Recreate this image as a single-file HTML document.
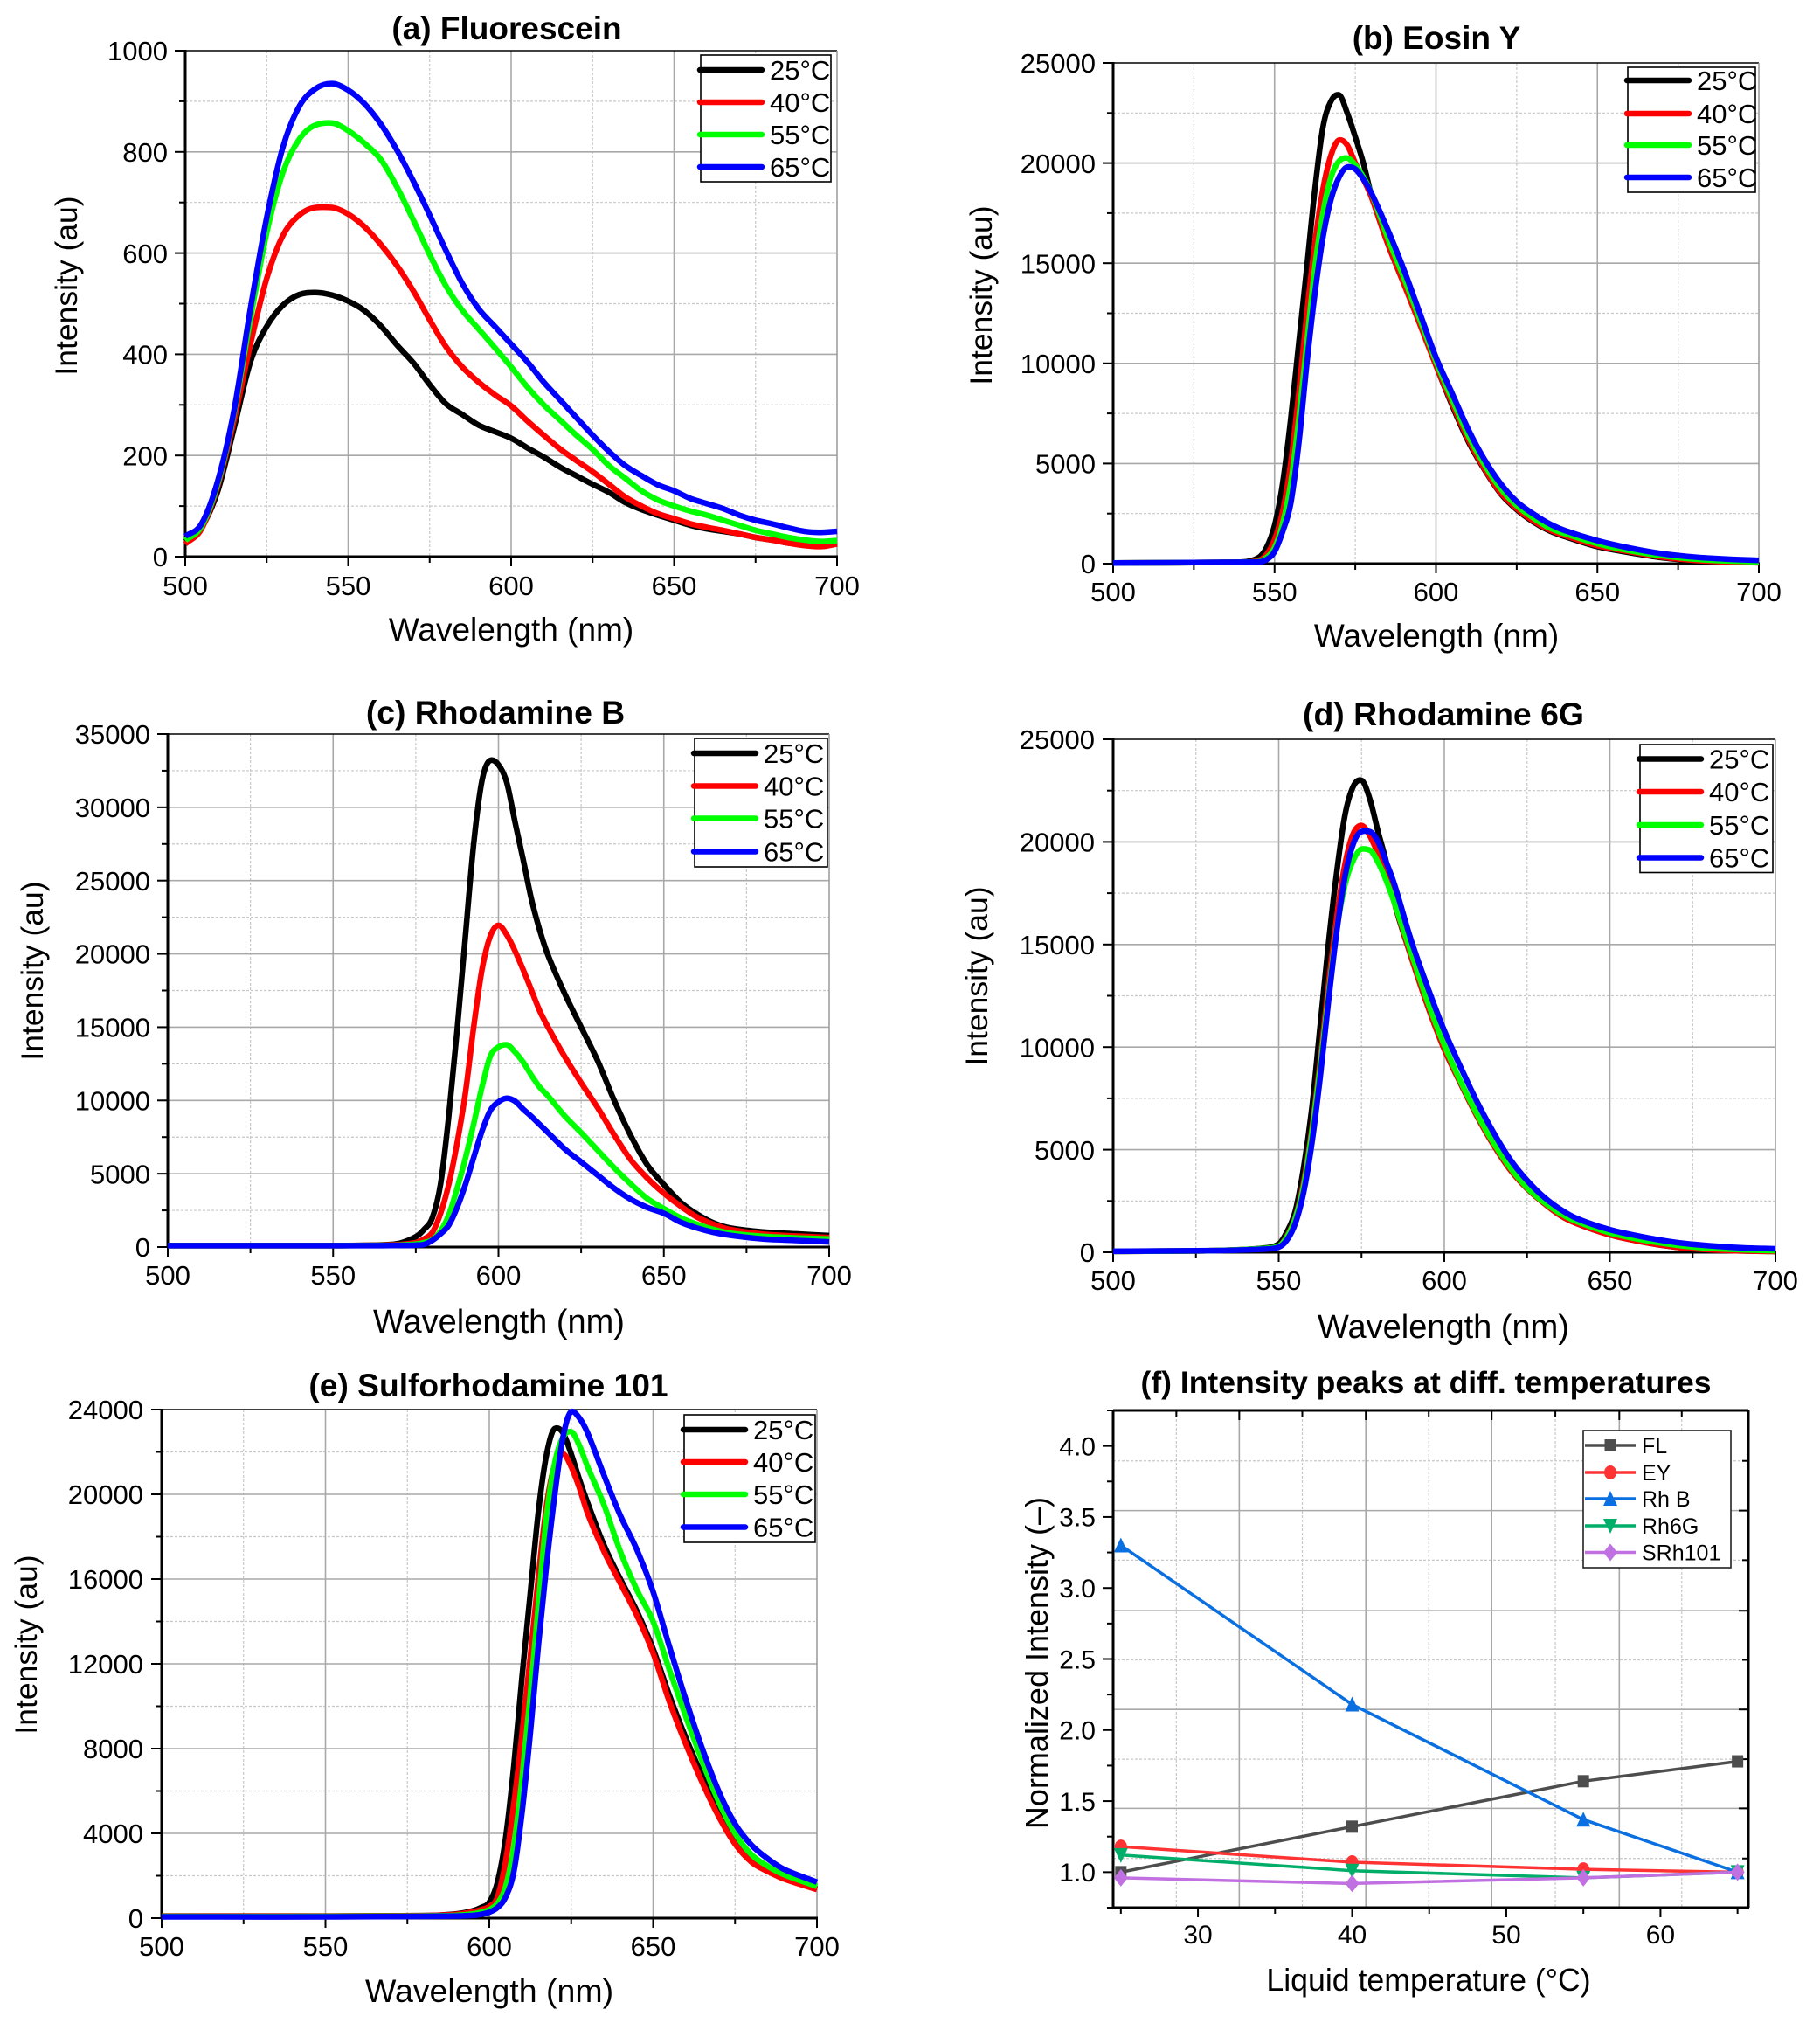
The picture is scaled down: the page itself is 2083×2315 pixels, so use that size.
<!DOCTYPE html>
<html>
<head>
<meta charset="utf-8">
<title>Fluorescence spectra at different temperatures</title>
<style>
html,body{margin:0;padding:0;background:#fff;}
svg{display:block;}
text{font-family:"Liberation Sans",Arial,sans-serif;fill:#000;}
</style>
</head>
<body>
<svg id="figure" xmlns="http://www.w3.org/2000/svg" width="2083" height="2315" viewBox="0 0 2083 2315"></svg>
<script>
// ---------- data: panel (a) Fluorescein ----------
const wlA=[500,505,510,515,520,525,530,535,540,545,550,555,560,565,570,575,580,585,590,595,600,605,610,615,620,625,630,635,640,645,650,655,660,665,670,675,680,685,690,695,700];
const a25=[30,58,130,255,385,455,497,518,522,517,505,486,456,418,383,340,302,281,260,247,234,215,197,177,160,143,127,107,93,82,72,62,55,50,45,38,33,27,24,26,28];
const a40=[25,55,140,270,420,550,635,675,690,690,677,652,617,575,525,468,415,375,345,320,298,268,240,213,190,168,143,118,100,85,75,65,58,52,45,38,33,27,22,20,25];
const a55=[32,60,145,285,470,640,760,825,853,857,842,817,785,730,665,597,535,487,450,413,375,335,300,270,240,212,180,155,130,112,100,90,82,72,62,52,45,38,33,30,32];
const a65=[40,65,150,290,490,670,810,890,925,935,922,895,855,803,742,675,605,540,490,455,420,385,345,310,275,240,208,180,160,142,130,115,105,95,82,72,65,57,50,48,50];
// ---------- data: panel (b) Eosin Y ----------
const wlB=[500,530,540,545,547.5,550,552.5,555,557.5,560,562.5,565,567.5,570,572.5,575,577.5,580,585,590,595,600,605,610,615,620,625,630,635,640,650,660,670,680,690,700];
const b25=[30,60,80,300,800,1900,4000,7200,11000,14800,18700,21800,23100,23400,22500,21300,20000,18400,16000,14000,12000,9900,7900,6100,4700,3500,2700,2100,1650,1350,850,550,300,150,80,50];
const b40=[30,60,70,150,450,1200,2600,5000,8500,12500,16000,18700,20400,21150,20900,20000,19200,18300,16000,14000,11950,9900,8000,6200,4750,3550,2750,2150,1700,1400,900,600,330,170,90,50];
const b55=[30,60,70,100,300,800,2000,4000,7200,11000,14800,17500,19300,20100,20250,19900,19300,18500,16300,14300,12200,10100,8200,6400,4950,3750,2900,2300,1800,1500,1000,650,400,230,140,100];
const b65=[30,60,70,80,200,600,1600,3000,6000,10000,13500,16300,18200,19300,19800,19700,19200,18500,16700,14700,12500,10300,8500,6700,5200,4000,3100,2500,2000,1650,1150,780,500,330,230,170];
// ---------- data: panel (c) Rhodamine B ----------
const wlC=[500,550,565,570,575,577.5,580,582.5,585,587.5,590,592.5,595,597.5,600,602.5,605,607.5,610,612.5,615,620,625,630,635,640,645,650,655,660,665,670,680,690,700];
const c25=[100,100,150,250,700,1200,2000,4300,9000,14800,21200,27500,31800,33200,32900,31700,29000,26400,23700,21600,19900,17300,15000,12700,10000,7600,5600,4260,3070,2250,1650,1300,1030,900,780];
const c40=[100,100,130,170,300,550,1000,2300,4300,7100,10500,15000,18900,21200,21950,21300,20200,18900,17500,16100,15000,13000,11200,9500,7650,5950,4700,3670,2800,2050,1550,1200,880,750,650];
const c55=[100,100,110,130,200,300,500,1100,2200,4000,6050,8400,10900,13000,13650,13800,13300,12600,11700,10900,10300,8950,7800,6600,5400,4300,3300,2620,2000,1550,1200,950,730,620,550];
const c65=[100,100,100,110,130,180,450,900,1500,2700,4260,6100,7900,9300,9900,10150,9950,9400,8900,8350,7800,6700,5800,4900,4000,3250,2700,2300,1700,1300,1000,800,550,450,350];
// ---------- data: panel (d) Rhodamine 6G ----------
const wlD=[500,530,545,550,552.5,555,557.5,560,562.5,565,567.5,570,572.5,575,577.5,580,582.5,585,590,595,600,605,610,615,620,625,630,635,640,650,660,670,680,690,700];
const d25=[50,80,200,400,1000,2000,4100,7000,11000,15000,18500,21300,22700,23000,22100,20500,19000,17000,14400,12000,9900,8200,6600,5200,4000,3100,2400,1800,1400,850,500,250,130,70,40];
const d40=[50,80,180,300,800,1700,3400,6000,9300,13000,16300,18900,20400,20800,20300,19400,18300,17000,14400,12000,9900,8200,6600,5200,4000,3100,2400,1800,1400,850,500,250,130,70,40];
const d55=[50,80,180,300,750,1650,3200,5800,9000,12500,15700,17900,19100,19650,19600,19000,18100,17000,14600,12200,10100,8300,6700,5300,4100,3150,2450,1900,1500,950,600,350,200,120,80];
const d65=[50,80,150,250,600,1400,2900,5300,8500,12200,15600,18300,19900,20500,20500,20000,19000,17900,15200,12900,10800,9000,7300,5800,4500,3500,2700,2100,1650,1100,750,480,320,220,170];
// ---------- data: panel (e) Sulforhodamine 101 ----------
const wlE=[500,550,580,590,595,597.5,600,602.5,605,607.5,610,612.5,615,617.5,620,622.5,625,627.5,630,635,640,645,650,655,660,665,670,675,680,685,690,700];
const e25=[100,100,120,200,350,500,750,1700,3800,7200,11400,15300,19200,21900,23100,22900,21900,20700,19600,17600,16000,14500,12700,10500,8500,6700,5000,3700,2750,2250,1900,1370];
const e40=[100,100,120,180,300,400,550,1000,2700,5400,8700,12300,16100,19500,21400,21900,21300,20300,19100,17300,15800,14300,12500,10200,8200,6400,4800,3500,2650,2200,1850,1350];
const e55=[80,80,100,130,200,280,400,700,1500,3400,6600,10500,14800,19000,21500,22700,22950,22300,21300,19500,17300,15500,14000,11700,9500,7400,5500,4000,3000,2450,2050,1500];
const e65=[60,60,80,100,130,180,280,500,1000,2200,5000,8700,12900,16700,20000,22700,23900,23600,22900,20900,19000,17400,15400,12800,10300,8000,6000,4450,3450,2800,2300,1700];
// ---------- data: panel (f) normalized peaks ----------
const tempsF=[25,40,55,65];
const flValues=[1.0,1.32,1.64,1.78];
const eyValues=[1.18,1.07,1.02,1.0];
const rhbValues=[3.3,2.18,1.37,1.0];
const rh6gValues=[1.12,1.01,0.96,1.0];
const srhValues=[0.96,0.92,0.96,1.0];
// ---------- shared tick labels ----------
const tempLabels=['25°C','40°C','55°C','65°C'];
const wavelengthTicks=[500,550,600,650,700];
const wavelengthMinor=[525,575,625,675];
const yTicksA=[0,200,400,600,800,1000];
const yMinorA=[100,300,500,700,900];
const yTicks25k=[0,5000,10000,15000,20000,25000];
const yMinor25k=[2500,7500,12500,17500,22500];
const yTicksC=[0,5000,10000,15000,20000,25000,30000,35000];
const yMinorC=[2500,7500,12500,17500,22500,27500,32500];
const yTicksE=[0,4000,8000,12000,16000,20000,24000];
const yMinorE=[2000,6000,10000,14000,18000,22000];
const xTicksF=[30,40,50,60];
const xMinorF=[25,35,45,55,65];
const yTicksF=[1.0,1.5,2.0,2.5,3.0,3.5,4.0];
const yMinorF=[0.75,1.25,1.75,2.25,2.75,3.25,3.75,4.25];
const gridXMajorF=[32.68,40.89,49.05,57.33];
const gridXMinorF=[28.6,36.77,44.97,53.18,61.38];
const gridYMajorF=[1.449,2.145,2.84,3.545];
const gridYMinorF=[1.096,1.795,2.494,3.196,3.895];

const NS='http://www.w3.org/2000/svg';
const fig=document.getElementById('figure');
const lineColors=['#000000','#ff0000','#00ff00','#0000ff'];

function mk(tag,attrs,parent){
  const el=document.createElementNS(NS,tag);
  for(const k in attrs){el.setAttribute(k,attrs[k]);}
  parent.appendChild(el);
  return el;
}
function smoothPath(px,py){
  const n=px.length,m=[];
  for(let i=0;i<n;i++){
    if(i===0){m.push((py[1]-py[0])/(px[1]-px[0]));}
    else if(i===n-1){m.push((py[n-1]-py[n-2])/(px[n-1]-px[n-2]));}
    else{
      const a=(py[i]-py[i-1])/(px[i]-px[i-1]);
      const b=(py[i+1]-py[i])/(px[i+1]-px[i]);
      const c=(py[i+1]-py[i-1])/(px[i+1]-px[i-1]);
      const lim=3*Math.min(Math.abs(a),Math.abs(b));
      if(a*b<=0){m.push(c*0.4);}
      else{m.push(Math.sign(c)*Math.min(Math.abs(c),lim));}
    }
  }
  let d='M'+px[0].toFixed(2)+' '+py[0].toFixed(2);
  for(let i=0;i<n-1;i++){
    const h=(px[i+1]-px[i])/3;
    d+='C'+(px[i]+h).toFixed(2)+' '+(py[i]+m[i]*h).toFixed(2)+' '+(px[i+1]-h).toFixed(2)+' '+(py[i+1]-m[i+1]*h).toFixed(2)+' '+px[i+1].toFixed(2)+' '+py[i+1].toFixed(2);
  }
  return d;
}
function addText(parent,str,x,y,size,anchor,name,bold,rotate){
  const t=document.createElementNS(NS,'text');
  
  
  t.setAttribute('x',x);
  t.setAttribute('y',y);
  t.setAttribute('font-size',size);
  t.setAttribute('text-anchor',anchor);
  if(bold){t.setAttribute('font-weight','bold');}
  if(rotate){t.setAttribute('transform','rotate(-90 '+x+' '+y+')');}
  t.textContent=str;
  parent.appendChild(t);
}
function addRule(parent,x1,y1,x2,y2,color,width,dash,name){
  const l=mk('line',{x1:x1,y1:y1,x2:x2,y2:y2,stroke:color,'stroke-width':width},parent);
  if(dash){l.setAttribute('stroke-dasharray',dash);}
  
  
}

function drawFrame(g,p){
  const sx=v=>p.left+(v-p.xMin)/(p.xMax-p.xMin)*(p.right-p.left);
  const sy=v=>p.bottom-(v-p.yMin)/(p.yMax-p.yMin)*(p.bottom-p.top);
  p.gridXMinor.forEach(v=>addRule(g,sx(v),p.top,sx(v),p.bottom,'#c8c8c8',1.2,'3 2','grid-line-x-minor'));
  p.gridYMinor.forEach(v=>addRule(g,p.left,sy(v),p.right,sy(v),'#c8c8c8',1.2,'3 2','grid-line-y-minor'));
  p.gridXMajor.forEach(v=>addRule(g,sx(v),p.top,sx(v),p.bottom,'#a8a8a8',1.6,'','grid-line-x-major'));
  p.gridYMajor.forEach(v=>addRule(g,p.left,sy(v),p.right,sy(v),'#a8a8a8',1.6,'','grid-line-y-major'));
  addRule(g,p.left,p.top,p.right,p.top,'#000',p.frameTop,'','top-axis-line');
  addRule(g,p.right,p.top,p.right,p.bottom,p.frameRightColor,p.frameRight,'','right-axis-line');
  p.xTicks.forEach(v=>{
    addRule(g,sx(v),p.bottom,sx(v),p.bottom+11,'#000',2,'','x-tick-major');
    addText(g,String(v),sx(v),p.xLabelY,p.tickSize,'middle','x-tick-label',false,false);
  });
  p.xMinor.forEach(v=>addRule(g,sx(v),p.bottom,sx(v),p.bottom+7,'#000',2,'','x-tick-minor'));
  p.yTicks.forEach(v=>{
    addRule(g,p.left-12,sy(v),p.left,sy(v),'#000',2,'','y-tick-major');
    addText(g,p.yFormat(v),p.yLabelX,sy(v)+p.tickSize*0.36,p.tickSize,'end','y-tick-label',false,false);
  });
  p.yMinor.forEach(v=>addRule(g,p.left-7,sy(v),p.left,sy(v),'#000',2,'','y-tick-minor'));
  addRule(g,p.left,p.top-1,p.left,p.bottom+1,'#000',3,'','y-axis-line');
  addRule(g,p.left-1,p.bottom,p.right+1,p.bottom,'#000',3,'','x-axis-line');
  addText(g,p.title,p.titleX,p.titleY,p.titleSize,'middle','chart-title',true,false);
  addText(g,p.xTitle,p.xTitleX,p.xTitleY,p.xTitleSize,'middle','x-axis-title',false,false);
  addText(g,p.yTitle,p.yTitleX,p.yTitleY,p.yTitleSize,'middle','y-axis-title',false,true);
  return {sx:sx,sy:sy};
}

function drawSpectrum(p){
  const g=mk('g',{},fig);
  
  
  const axes=drawFrame(g,p);
  p.series.forEach((vals,i)=>{
    const path=mk('path',{d:smoothPath(p.wl.map(axes.sx),vals.map(axes.sy)),fill:'none',stroke:lineColors[i],'stroke-width':6.5,'stroke-linejoin':'round'},g);
    
    
  });
  const leg=mk('g',{},g);
  
  
  mk('rect',{x:p.legend.x,y:p.legend.y,width:p.legend.w,height:p.legend.h,fill:'#fff',stroke:'#000','stroke-width':1.6},leg);
  tempLabels.forEach((lab,i)=>{
    const ry=p.legend.rows[i];
    const sample=mk('line',{x1:p.legend.x-1,y1:ry,x2:p.legend.x+70,y2:ry,stroke:lineColors[i],'stroke-width':6.5,'stroke-linecap':'round'},leg);
    
    
    addText(leg,lab,p.legend.x+79,ry+11,31,'start','legend-entry',false,false);
  });
}

const commonX={xMin:500,xMax:700,xTicks:wavelengthTicks,xMinor:wavelengthMinor,gridXMajor:wavelengthTicks.slice(1,4),gridXMinor:wavelengthMinor,
  frameTop:1.5,frameRight:1.5,frameRightColor:'#999',tickSize:31,yTitleSize:35.5,xTitle:'Wavelength (nm)',yTitle:'Intensity (au)',yFormat:v=>String(v),yMin:0};

drawSpectrum(Object.assign({},commonX,{name:'panel-a-fluorescein',title:'(a) Fluorescein',titleSize:37,xTitleSize:37,left:212,right:958,top:58,bottom:637,yMax:1000,
  yTicks:yTicksA,yMinor:yMinorA,gridYMajor:yTicksA.slice(1,5),gridYMinor:yMinorA,wl:wlA,series:[a25,a40,a55,a65],
  titleX:580,titleY:45,xLabelY:681,yLabelX:192,xTitleX:585,xTitleY:733,yTitleX:88,yTitleY:327,
  legend:{x:802,y:63,w:149,h:145,rows:[80,117,154,191]}}));
drawSpectrum(Object.assign({},commonX,{name:'panel-b-eosin-y',title:'(b) Eosin Y',titleSize:37,xTitleSize:37,left:1274,right:2013,top:72,bottom:645,yMax:25000,
  yTicks:yTicks25k,yMinor:yMinor25k,gridYMajor:yTicks25k.slice(1,5),gridYMinor:yMinor25k,wl:wlB,series:[b25,b40,b55,b65],
  titleX:1644,titleY:56,xLabelY:688,yLabelX:1254,xTitleX:1644,xTitleY:740,yTitleX:1135,yTitleY:338,
  legend:{x:1863,y:77,w:146,h:143,rows:[92,130,166,203]}}));
drawSpectrum(Object.assign({},commonX,{name:'panel-c-rhodamine-b',title:'(c) Rhodamine B',titleSize:37.3,xTitleSize:38,left:192,right:949,top:840,bottom:1427,yMax:35000,
  yTicks:yTicksC,yMinor:yMinorC,gridYMajor:yTicksC.slice(1,7),gridYMinor:yMinorC,wl:wlC,series:[c25,c40,c55,c65],
  titleX:567,titleY:828,xLabelY:1470,yLabelX:172,xTitleX:571,xTitleY:1525,yTitleX:49,yTitleY:1111,
  legend:{x:795,y:845,w:152,h:147,rows:[862,899.5,936.5,974.5]}}));
drawSpectrum(Object.assign({},commonX,{name:'panel-d-rhodamine-6g',title:'(d) Rhodamine 6G',titleSize:37.4,xTitleSize:38,left:1274,right:2032,top:846,bottom:1433,yMax:25000,
  yTicks:yTicks25k,yMinor:yMinor25k,gridYMajor:yTicks25k.slice(1,5),gridYMinor:yMinor25k,wl:wlD,series:[d25,d40,d55,d65],
  titleX:1652,titleY:830,xLabelY:1476,yLabelX:1253,xTitleX:1652,xTitleY:1531,yTitleX:1130,yTitleY:1117,
  legend:{x:1877,y:852,w:152,h:146.5,rows:[868.5,906,944,981.5]}}));
drawSpectrum(Object.assign({},commonX,{name:'panel-e-sulforhodamine-101',title:'(e) Sulforhodamine 101',titleSize:37.2,xTitleSize:37.5,left:185,right:935,top:1613,bottom:2195,yMax:24000,
  yTicks:yTicksE,yMinor:yMinorE,gridYMajor:yTicksE.slice(1,6),gridYMinor:yMinorE,wl:wlE,series:[e25,e40,e55,e65],
  titleX:559,titleY:1598,xLabelY:2238,yLabelX:164,xTitleX:560,xTitleY:2291,yTitleX:42,yTitleY:1882,
  legend:{x:783,y:1619,w:150,h:146,rows:[1636,1673,1710,1747.5]}}));

// panel (f)
const peakNames=['FL','EY','Rh B','Rh6G','SRh101'];
const peakColors=['#4d4d4d','#ff3333','#0a6fe0','#00ad69','#c070e0'];
const peakSeries=[flValues,eyValues,rhbValues,rh6gValues,srhValues];
function marker(g,shape,cx,cy,color){
  let el;
  if(shape===0){el=mk('rect',{x:cx-6.5,y:cy-7,width:13,height:14,fill:color},g);}
  else if(shape===1){el=mk('ellipse',{cx:cx,cy:cy,rx:7,ry:8,fill:color},g);}
  else if(shape===2){el=mk('polygon',{points:(cx-8)+','+(cy+8)+' '+(cx+8)+','+(cy+8)+' '+cx+','+(cy-9),fill:color},g);}
  else if(shape===3){el=mk('polygon',{points:(cx-8)+','+(cy-8)+' '+(cx+8)+','+(cy-8)+' '+cx+','+(cy+9),fill:color},g);}
  else{el=mk('polygon',{points:(cx-8)+','+cy+' '+cx+','+(cy-10)+' '+(cx+8)+','+cy+' '+cx+','+(cy+10),fill:color},g);}
  
  
}
(function(){
  const p={left:1274,right:2001,top:1614,bottom:2183,xMin:24.5,xMax:65.7,yMin:0.75,yMax:4.25,
    xTicks:xTicksF,xMinor:xMinorF,yTicks:yTicksF,yMinor:yMinorF,gridXMajor:gridXMajorF,gridXMinor:gridXMinorF,gridYMajor:gridYMajorF,gridYMinor:gridYMinorF,
    frameTop:3,frameRight:3,frameRightColor:'#000',tickSize:30,yFormat:v=>v.toFixed(1),
    title:'(f) Intensity peaks at diff. temperatures',titleSize:35.5,xTitleSize:35.7,yTitleSize:36,titleX:1632,titleY:1594,xLabelY:2224,yLabelX:1254,
    xTitle:'Liquid temperature (°C)',xTitleX:1635,xTitleY:2278,yTitle:'Normalized Intensity (–)',yTitleX:1199,yTitleY:1903};
  const g=mk('g',{},fig);
  
  
  const axes=drawFrame(g,p);
  gridXMajorF.forEach(v=>addRule(g,axes.sx(v),p.top,axes.sx(v),p.top+11,'#000',2,'','top-tick-major'));
  gridXMinorF.forEach(v=>addRule(g,axes.sx(v),p.top,axes.sx(v),p.top+7,'#000',2,'','top-tick-minor'));
  gridYMajorF.forEach(v=>addRule(g,p.right-11,axes.sy(v),p.right,axes.sy(v),'#000',2,'','right-tick-major'));
  gridYMinorF.forEach(v=>addRule(g,p.right-7,axes.sy(v),p.right,axes.sy(v),'#000',2,'','right-tick-minor'));
  peakSeries.forEach((vals,i)=>{
    const pts=vals.map((v,j)=>axes.sx(tempsF[j]).toFixed(1)+','+axes.sy(v).toFixed(1)).join(' ');
    const line=mk('polyline',{points:pts,fill:'none',stroke:peakColors[i],'stroke-width':3.5},g);
    
    
    vals.forEach((v,j)=>marker(g,i,axes.sx(tempsF[j]),axes.sy(v),peakColors[i]));
  });
  const leg=mk('g',{},g);
  
  
  mk('rect',{x:1812,y:1637,width:169,height:157,fill:'#fff',stroke:'#222','stroke-width':1.6},leg);
  const rows=[1654,1685,1715,1746,1776.5];
  peakNames.forEach((nm,i)=>{
    const sample=mk('line',{x1:1814,y1:rows[i],x2:1872,y2:rows[i],stroke:peakColors[i],'stroke-width':3.5},leg);
    
    
    marker(leg,i,1843,rows[i],peakColors[i]);
    addText(leg,nm,1879,rows[i]+9,25,'start','legend-entry',false,false);
  });
})();
</script>
</body>
</html>
